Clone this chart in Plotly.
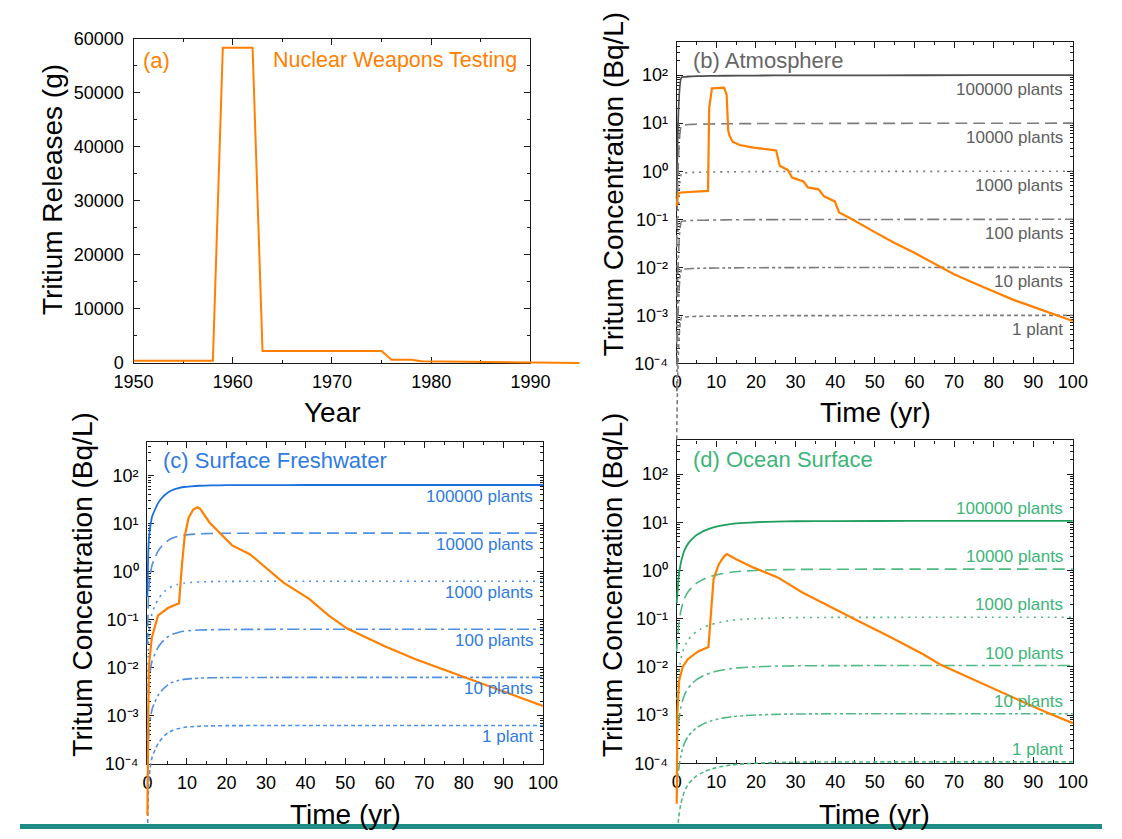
import math
import plotly.graph_objects as go

W, H = 1122, 839
FONT = "Arial, 'Liberation Sans', Helvetica, sans-serif"

# ---------------- data ----------------
# (a) nuclear weapons testing releases
years_a = [1950, 1958, 1959, 1962, 1963, 1975, 1976, 1978, 1979, 1986, 1990, 1995]
release_a = [400, 400, 58300, 58300, 2200, 2200, 600, 600, 300, 200, 50, 0]
year_ticks = [1950, 1960, 1970, 1980, 1990]
year_minor = [1955, 1965, 1975, 1985]
release_ticks = [0, 10000, 20000, 30000, 40000, 50000, 60000]
release_minor = [5000, 15000, 25000, 35000, 45000, 55000]

plant_counts = [100000, 10000, 1000, 100, 10, 1]
plant_labels = ["100000 plants", "10000 plants", "1000 plants", "100 plants", "10 plants", "1 plant"]

time_ticks = [0, 10, 20, 30, 40, 50, 60, 70, 80, 90, 100]
time_minor = [5, 15, 25, 35, 45, 55, 65, 75, 85, 95]
conc_ticks = [1e-4, 1e-3, 1e-2, 1e-1, 1e0, 1e1, 1e2]
conc_ticktext = ["10\u207b\u2074", "10\u207b\u00b3", "10\u207b\u00b2", "10\u207b\u00b9",
                 "10\u2070", "10\u00b9", "10\u00b2"]

# (b) atmosphere: one-plant curve and weapons-testing curve
t_atm_plant = [0, 1.2, 2, 3, 5, 8, 12, 20, 30, 50, 75, 100]
atm_1plant = [2.6e-6, 9.0e-4, 9.2e-4, 9.35e-4, 9.5e-4, 9.6e-4, 9.7e-4, 9.8e-4, 9.85e-4, 9.9e-4, 9.95e-4, 1.0e-3]
t_atm_test = [0, 0.35, 1, 7.9, 8.2, 8.9, 11.95, 12.6, 13.0, 13.3, 14.1, 15.9, 19.4, 25.1, 26.0, 28.1,
              29.1, 32.0, 33.1, 35.8, 37.2, 39.9, 41.0, 43.8, 50, 55, 60, 66.5, 70, 75, 80, 85, 90, 95, 100]
atm_test = [0.19, 0.34, 0.36, 0.39, 21, 53, 55, 39, 7.0, 5.6, 4.1, 3.5, 3.1, 2.7, 1.3, 1.05,
            0.74, 0.61, 0.46, 0.42, 0.30, 0.235, 0.139, 0.105, 0.054, 0.032, 0.020, 0.0101, 0.0072,
            0.0047, 0.0031, 0.0021, 0.0015, 0.00107, 0.00076]

# (c) surface freshwater
t_fw_plant = [0, 0.35, 0.7, 1.2, 1.93, 2.7, 3.6, 4.4, 5.2, 6.2, 7.6, 9.2, 11, 13.3, 16, 20, 30, 40, 100]
fw_1plant = [3e-6, 4.4e-5, 8.2e-5, 1.39e-4, 1.95e-4, 2.65e-4, 3.34e-4, 3.9e-4, 4.41e-4, 4.91e-4, 5.36e-4,
             5.73e-4, 5.92e-4, 6.08e-4, 6.17e-4, 6.24e-4, 6.28e-4, 6.3e-4, 6.3e-4]
t_fw_test = [0, 0.17, 0.35, 1.12, 2.7, 5.2, 6.8, 8.0, 8.7, 9.4, 10.4, 11.6, 12.65, 13.3, 15.7, 19.0,
             21.4, 25.9, 29.5, 34.4, 40.9, 45.8, 50.4, 54.8, 60, 67.8, 80, 89.6, 100]
fw_test = [8.5e-6, 0.00115, 0.0102, 0.042, 0.123, 0.174, 0.195, 0.22, 1.27, 5.2, 13, 19.5, 21.8, 20.4,
           10.5, 5.6, 3.5, 2.3, 1.28, 0.59, 0.27, 0.123, 0.066, 0.045, 0.028, 0.015, 0.0064, 0.0032, 0.0016]

# (d) ocean surface
t_oc_plant = [0, 0.5, 1, 1.5, 2, 3, 4, 5, 6, 7, 8.5, 10, 12, 14, 17, 20, 25, 30, 40, 60, 100]
oc_1plant = [2.1e-6, 7.5e-6, 1.39e-5, 2.03e-5, 2.68e-5, 3.75e-5, 4.6e-5, 5.46e-5, 6.1e-5, 6.74e-5, 7.49e-5,
             8.13e-5, 8.77e-5, 9.31e-5, 9.74e-5, 1.006e-4, 1.038e-4, 1.054e-4, 1.065e-4, 1.07e-4, 1.07e-4]
t_oc_test = [0, 0.17, 0.6, 1.5, 2.8, 5.4, 8.0, 8.55, 9.3, 10.6, 11.95, 12.65, 15, 19.4, 25.5, 31.6,
             40.3, 44.7, 53.4, 62.1, 66.5, 75.2, 83.9, 92.7, 100]
oc_test = [1.45e-5, 0.00112, 0.0052, 0.010, 0.0145, 0.021, 0.026, 0.12, 0.66, 1.34, 1.97, 2.19, 1.72,
           1.15, 0.72, 0.355, 0.15, 0.10, 0.044, 0.0185, 0.0112, 0.0053, 0.0025, 0.0012, 0.00068]

# ---------------- styling ----------------
ORANGE = "#ff8000"
AX = "#1a1a1a"
DASHES = ["solid", "12px,6px", "2px,5px", "12px,4px,3px,4px", "10px,3px,3px,3px,3px,3px", "4px,3px"]
PANEL_STYLE = {
    "b": dict(main="#4f4f4f", other="#7c7c7c", label="#5e5e5e"),
    "c": dict(main="#1c6fdf", other="#4d8fe6", label="#2f7be2"),
    "d": dict(main="#1f9e5d", other="#4fbb82", label="#3db577"),
}
LOG_TOP = math.log10(500)

# frame boxes in pixels: x0, x1, ytop, ybottom
BOX = {
    "a": (117.7, 529.3, 29.3, 361.5),
    "b": (681.0, 1091.8, 32.3, 362.0),
    "c": (132.1, 542.3, 442.3, 772.3),
    "d": (681.0, 1091.8, 441.0, 771.7),
}


def fx(px):
    return px / W


def fy(py):
    return 1 - py / H


axis_common = dict(showline=True, linecolor=AX, linewidth=1.4, mirror="allticks", ticks="inside",
                   ticklen=6, tickwidth=1.3, tickcolor=AX, showgrid=False, zeroline=False,
                   tickfont=dict(family=FONT, size=18, color="black"), fixedrange=True)
minor_common = dict(ticks="inside", ticklen=3, tickwidth=1.1, tickcolor=AX, showgrid=False)

layout = dict(width=W, height=H, autosize=False, margin=dict(l=0, r=0, t=0, b=0),
              paper_bgcolor="white", plot_bgcolor="rgba(0,0,0,0)", showlegend=False,
              font=dict(family=FONT, color="black"))

panels = ["a", "b", "c", "d"]
for i, p in enumerate(panels):
    n = i + 1
    x0, x1, yt, yb = BOX[p]
    xk = "xaxis" if n == 1 else f"xaxis{n}"
    yk = "yaxis" if n == 1 else f"yaxis{n}"
    ya = "y" if n == 1 else f"y{n}"
    xa = "x" if n == 1 else f"x{n}"
    if p == "a":
        layout[xk] = dict(domain=[fx(x0), fx(x1)], anchor=ya, range=[1950, 1990], tickmode="array",
                          tickvals=year_ticks, ticktext=[str(v) for v in year_ticks],
                          minor=dict(tickvals=year_minor, **minor_common), ticklabelstandoff=2, **axis_common)
        layout[yk] = dict(domain=[fy(yb), fy(yt)], anchor=xa, range=[0, 60000], tickmode="array",
                          tickvals=release_ticks, ticktext=[str(v) for v in release_ticks],
                          minor=dict(tickvals=release_minor, **minor_common), ticklabelstandoff=5, **axis_common)
    else:
        conc_minor = [k * 10 ** e for e in range(-4, 3) for k in range(2, 10) if k * 10 ** e < 500]
        layout[xk] = dict(domain=[fx(x0), fx(x1)], anchor=ya, range=[0, 100], tickmode="array",
                          tickvals=time_ticks, ticktext=[str(v) for v in time_ticks],
                          minor=dict(tickvals=time_minor, **minor_common), ticklabelstandoff=2, **axis_common)
        layout[yk] = dict(domain=[fy(yb), fy(yt)], anchor=xa, type="log", range=[-4, LOG_TOP],
                          tickmode="array", tickvals=conc_ticks, ticktext=conc_ticktext,
                          minor=dict(tickvals=conc_minor, **minor_common), ticklabelstandoff=4, **axis_common)

    # hidden data axes with an extended domain, so lines may run past the frame as in the original
    m = n + 4
    if p == "a":
        xpp = 40 / (x1 - x0)
        ypp = 60000 / (yb - yt)
        x_end_px, y_end_px = 580.0, 368.0
        layout[f"xaxis{m}"] = dict(visible=False, domain=[fx(x0), fx(x_end_px)], anchor=f"y{m}",
                                   range=[1950, 1950 + (x_end_px - x0) * xpp], fixedrange=True)
        layout[f"yaxis{m}"] = dict(visible=False, domain=[fy(y_end_px), fy(yt)], anchor=f"x{m}",
                                   range=[-(y_end_px - yb) * ypp, 60000], fixedrange=True)
    else:
        xpp = 100 / (x1 - x0)
        dec = (yb - yt) / (LOG_TOP + 4)
        left_px = x0 - 4
        layout[f"xaxis{m}"] = dict(visible=False, domain=[fx(left_px), fx(x1)], anchor=f"y{m}",
                                   range=[-(x0 - left_px) * xpp, 100], fixedrange=True)
        layout[f"yaxis{m}"] = dict(visible=False, type="log", domain=[0, fy(yt)], anchor=f"x{m}",
                                   range=[-4 - (H - yb) / dec, LOG_TOP], fixedrange=True)

fig = go.Figure(layout=layout)

# empty traces so every frame subplot is registered and drawn
for n in range(1, 5):
    fig.add_trace(go.Scatter(x=[], y=[], mode="lines", xaxis="x" if n == 1 else f"x{n}",
                             yaxis="y" if n == 1 else f"y{n}", hoverinfo="skip"))

fig.add_trace(go.Scatter(x=years_a, y=release_a, mode="lines", line=dict(color=ORANGE, width=2),
                         xaxis="x5", yaxis="y5", hoverinfo="skip"))

panel_data = {
    "b": (6, t_atm_plant, atm_1plant, t_atm_test, atm_test),
    "c": (7, t_fw_plant, fw_1plant, t_fw_test, fw_test),
    "d": (8, t_oc_plant, oc_1plant, t_oc_test, oc_test),
}
for p, (m, tp, base, tt, vt) in panel_data.items():
    st = PANEL_STYLE[p]
    for j, cnt in enumerate(plant_counts):
        fig.add_trace(go.Scatter(x=tp, y=[v * cnt for v in base], mode="lines",
                                 line=dict(color=st["main"] if j == 0 else st["other"],
                                           width=1.8 if j == 0 else 1.6, dash=DASHES[j],
                                           shape="spline", smoothing=0.6),
                                 xaxis=f"x{m}", yaxis=f"y{m}", hoverinfo="skip"))
    fig.add_trace(go.Scatter(x=tt, y=vt, mode="lines", line=dict(color=ORANGE, width=2.2),
                             xaxis=f"x{m}", yaxis=f"y{m}", hoverinfo="skip"))

ann = []


def add_text(text, px, py, size, color, xanchor="left", angle=0):
    ann.append(dict(text=text, x=fx(px), y=fy(py), xref="paper", yref="paper", showarrow=False,
                    xanchor=xanchor, yanchor="middle", textangle=angle,
                    font=dict(family=FONT, size=size, color=color)))


add_text("(a)", 125.5, 51.7, 22, ORANGE)
add_text("Nuclear Weapons Testing", 517.5, 51.7, 21.5, ORANGE, xanchor="right")
add_text("(b) Atmosphere", 696.0, 51.7, 22, "#666666")
add_text("(c) Surface Freshwater", 146.3, 461.7, 22, PANEL_STYLE["c"]["label"])
add_text("(d) Ocean Surface", 696.0, 460.7, 22, PANEL_STYLE["d"]["label"])

add_text("Tritium Releases (g)", 33, 183.5, 28, "black", xanchor="center", angle=-90)
add_text("Tritum Concentration (Bq/L)", 615.5, 179, 28, "black", xanchor="center", angle=-90)
add_text("Tritum Concentration (Bq/L)", 65, 589, 28, "black", xanchor="center", angle=-90)
add_text("Tritum Concentration (Bq/L)", 615, 589, 28, "black", xanchor="center", angle=-90)
add_text("Year", 323.6, 412, 28, "black", xanchor="center")
add_text("Time (yr)", 886.7, 412, 28, "black", xanchor="center")
add_text("Time (yr)", 337.6, 824, 28, "black", xanchor="center")
add_text("Time (yr)", 886.0, 824, 28, "black", xanchor="center")

label_shift = {"b": (2, -14.5), "c": (3, -11.0), "d": (4, 12.4)}
for p, (n, shift) in label_shift.items():
    base = panel_data[p][2]
    for cnt, lab in zip(plant_counts, plant_labels):
        ann.append(dict(text=lab, x=98, y=math.log10(base[-1] * cnt), xref=f"x{n}", yref=f"y{n}",
                        showarrow=False, xanchor="right", yanchor="middle", yshift=shift,
                        font=dict(family=FONT, size=17, color=PANEL_STYLE[p]["label"])))

fig.update_layout(annotations=ann)

# teal strip at the bottom edge
fig.add_shape(type="rect", xref="paper", yref="paper", x0=0, x1=1, y0=0, y1=fy(834),
              fillcolor="#1f8d86", line=dict(width=0), layer="above")

fig.write_html("out.html", config={"displayModeBar": False},
               post_script="document.body.style.margin='0';document.body.style.overflow='hidden';")
